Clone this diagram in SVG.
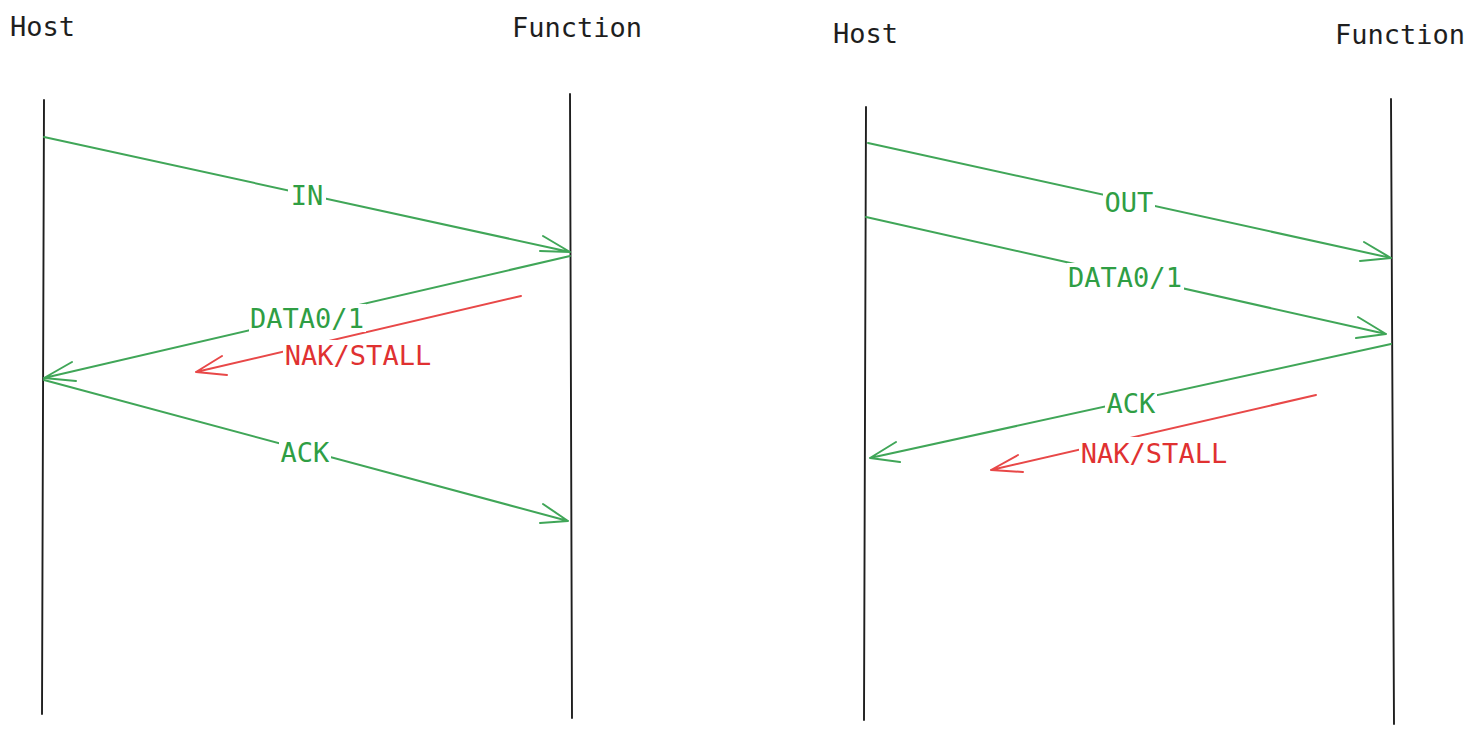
<svg xmlns="http://www.w3.org/2000/svg" width="1475" height="734" viewBox="0 0 1475 734">
<style>
.t{font-family:"DejaVu Sans Mono","Liberation Mono",monospace;font-size:27px}
.h{fill:#1e1e1e}
.g{fill:#2f9e44}
.r{fill:#e03131}
.life{stroke:#1e1e1e;stroke-width:1.9;fill:none;stroke-linecap:round}
.gl{stroke:#40a658;stroke-width:2;fill:none;stroke-linecap:round;stroke-linejoin:round}
.rl{stroke:#e84848;stroke-width:2;fill:none;stroke-linecap:round;stroke-linejoin:round}
.bg{fill:#ffffff}
</style>
<rect width="1475" height="734" fill="#ffffff"/>
<g id="left-host"><text class="t h" x="10" y="36">Host</text><path class="life" d="M44 100 L42 714"/></g>
<g id="left-function"><text class="t h" x="512" y="37">Function</text><path class="life" d="M570 94 L572 718"/></g>
<g id="right-host"><text class="t h" x="833" y="43">Host</text><path class="life" d="M866 107 L864 720"/></g>
<g id="right-function"><text class="t h" x="1335" y="44">Function</text><path class="life" d="M1391 99 L1394 724"/></g>
<g id="connectors">
<path class="gl" d="M44 137 L570 252 M543 236 L570 252 L540 251"/>
<path class="gl" d="M570 256 L44 378 M72 362 L44 378 L76 381"/>
<path class="rl" d="M521 296 L196 372 M222 356 L196 372 L227 375"/>
<path class="gl" d="M44 380 L568 521 M543 504 L568 521 L540 523"/>
<path class="gl" d="M868 143 L1391 258 M1364 242 L1391 258 L1360 261"/>
<path class="gl" d="M866 217 L1386 334 M1358 317 L1386 334 L1356 338"/>
<path class="gl" d="M1391 344 L870 458 M896 442 L870 458 L900 462"/>
<path class="rl" d="M1316 395 L991 470 M1018 455 L991 470 L1023 472"/>
</g>
<g id="label-in"><rect class="bg" x="288" y="182" width="38" height="28"/><text class="t g" x="307" y="205" text-anchor="middle">IN</text></g>
<g id="label-data-left"><rect class="bg" x="249" y="304" width="117" height="28"/><text class="t g" x="307" y="328" text-anchor="middle">DATA0/1</text></g>
<g id="label-nak-left"><rect class="bg" x="283" y="340" width="150" height="30"/><text class="t r" x="358" y="365" text-anchor="middle">NAK/STALL</text></g>
<g id="label-ack-left"><rect class="bg" x="279" y="438" width="52" height="28"/><text class="t g" x="305" y="462" text-anchor="middle">ACK</text></g>
<g id="label-out"><rect class="bg" x="1103" y="188" width="52" height="28"/><text class="t g" x="1129" y="212" text-anchor="middle">OUT</text></g>
<g id="label-data-right"><rect class="bg" x="1067" y="263" width="117" height="28"/><text class="t g" x="1125" y="287" text-anchor="middle">DATA0/1</text></g>
<g id="label-ack-right"><rect class="bg" x="1105" y="389" width="52" height="28"/><text class="t g" x="1131" y="413" text-anchor="middle">ACK</text></g>
<g id="label-nak-right"><rect class="bg" x="1079" y="437" width="150" height="30"/><text class="t r" x="1154" y="463" text-anchor="middle">NAK/STALL</text></g>
</svg>
